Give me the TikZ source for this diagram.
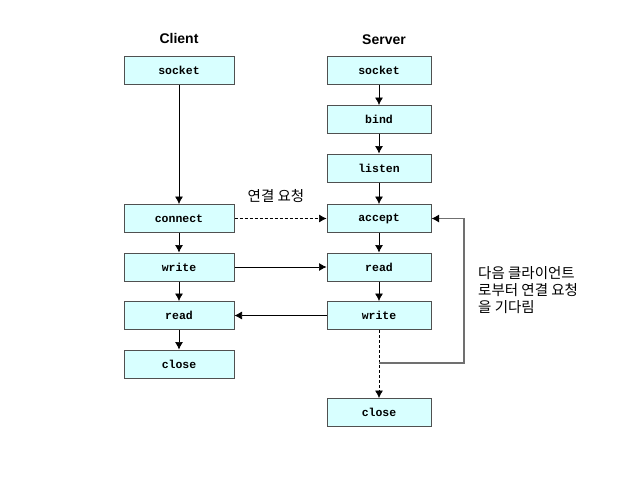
\documentclass[tikz,border=0pt]{standalone}
\usepackage{fontspec}
\setmainfont{Liberation Sans}
\setmonofont{Liberation Mono}
\newfontfamily\kr{Noto Sans CJK KR}
\usetikzlibrary{arrows.meta}
\definecolor{boxfill}{HTML}{D8FFFF}
\definecolor{boxline}{HTML}{505050}
\definecolor{loopgray}{HTML}{707070}
\tikzset{
  fn/.style={draw=boxline, line width=1pt, fill=boxfill, minimum width=110pt, minimum height=28pt, inner sep=0pt, font=\ttfamily\bfseries\fontsize{11.5}{12}\selectfont},
  ttl/.style={font=\bfseries\fontsize{14}{16}\selectfont},
  arr/.style={-{Latex[length=7.5pt,width=8pt]}, line width=0.7pt},
  lbl/.style={font=\kr\fontsize{14.5}{17}\selectfont, align=left, inner sep=0pt}
}
\begin{document}
\begin{tikzpicture}[x=1pt,y=-1pt]
\useasboundingbox (0,0) rectangle (636,480);
\node[ttl] (ct) at (179,38) {Client};
\node[ttl] (st) at (384,39.5) {Server};
\node[fn] (cs) at (179,70.5) {socket};
\node[fn] (cc) at (179,218.5) {connect};
\node[fn] (cw) at (179,267) {write};
\node[fn] (cr) at (179,315.5) {read};
\node[fn] (cl) at (179,364) {close};
\node[fn, minimum width=104pt] (ss) at (379,70.5) {socket};
\node[fn, minimum width=104pt] (sb) at (379,119.5) {bind};
\node[fn, minimum width=104pt] (sl) at (379,168) {listen};
\node[fn, minimum width=104pt] (sa) at (379,218.5) {accept};
\node[fn, minimum width=104pt] (sr) at (379,267) {read};
\node[fn, minimum width=104pt] (sw) at (379,315.5) {write};
\node[fn, minimum width=104pt] (sc) at (379,412.5) {close};
\coordinate (j) at (379,363);
\draw[arr] (cs) -- (cc);
\draw[arr] (cc) -- (cw);
\draw[arr] (cw) -- (cr);
\draw[arr] (cr) -- (cl);
\draw[arr] (ss) -- (sb);
\draw[arr] (sb) -- (sl);
\draw[arr] (sl) -- (sa);
\draw[arr] (sa) -- (sr);
\draw[arr] (sr) -- (sw);
\draw[arr, dashed, dash pattern=on 3pt off 2pt] (cc) -- (sa);
\draw[arr] (cw) -- (sr);
\draw[arr] (sw) -- (cr);
\draw[arr, dashed, dash pattern=on 3pt off 2pt] (sw) -- (sc);
\draw[-{Latex[length=7.5pt,width=8pt,color=black]}, draw=loopgray, line width=1.1pt] (j) -- (464,363) -- (464,218.5) -- (sa);
\node[lbl] (l1) at (276,196) {연결 요청};
\node[lbl, anchor=west] (l2) at (478,290.5) {다음 클라이언트\\로부터 연결 요청\\을 기다림};
\end{tikzpicture}
\end{document}
